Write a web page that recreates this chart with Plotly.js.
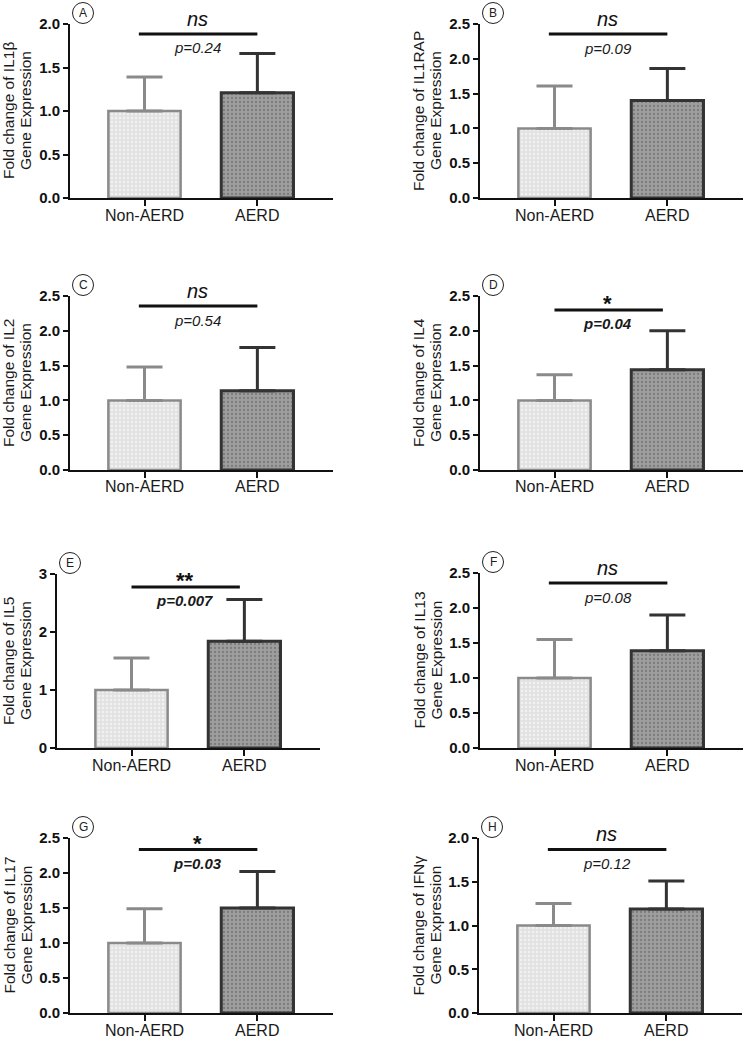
<!DOCTYPE html>
<html>
<head>
<meta charset="utf-8">
<script src="https://cdn.plot.ly/plotly-3.0.1.min.js"></script>
<style>html,body{margin:0;padding:0;background:#fff;}#chart{width:744px;height:1038px;}</style>
</head>
<body>
<div id="chart"></div>
<script>
// ---- data ----
const categories = ['Non-AERD', 'AERD'];
const panelLetters = ['A', 'B', 'C', 'D', 'E', 'F', 'G', 'H'];
const genes = ['IL1β', 'IL1RAP', 'IL2', 'IL4', 'IL5', 'IL13', 'IL17', 'IFNγ'];
const nonAerdMean = [1.0, 1.0, 1.0, 1.0, 1.0, 1.0, 1.0, 1.0];
const aerdMean = [1.21, 1.40, 1.14, 1.44, 1.84, 1.39, 1.50, 1.19];
const nonAerdErr = [0.39, 0.61, 0.48, 0.37, 0.55, 0.55, 0.49, 0.25];
const aerdErr = [0.45, 0.46, 0.62, 0.56, 0.72, 0.51, 0.52, 0.32];
const yMax = [2.0, 2.5, 2.5, 2.5, 3, 2.5, 2.5, 2.0];
const yStep = [0.5, 0.5, 0.5, 0.5, 1, 0.5, 0.5, 0.5];
const sigLabel = ['ns', 'ns', 'ns', '*', '**', 'ns', '*', 'ns'];
const pValue = ['p=0.24', 'p=0.09', 'p=0.54', 'p=0.04', 'p=0.007', 'p=0.08', 'p=0.03', 'p=0.12'];
const sigBarY = [1.885, 2.356, 2.356, 2.30, 2.776, 2.356, 2.337, 1.870];
const sigBarFrom = [-0.05, -0.05, -0.05, 0.0, 0.0, -0.05, -0.05, -0.05];
const sigBarTo = [1.0, 1.0, 1.0, 0.96, 0.96, 1.0, 1.0, 1.0];

// ---- layout geometry (pixels) ----
const W = 744, H = 1038;
const axisLeft = [70, 480, 70, 480, 57, 480, 70, 479];
const plotTop = [24, 24, 296, 296, 574, 573, 838, 838];
const plotBottom = [198, 198, 470, 470, 748, 748, 1013, 1013];
const plotWidth = 263;
const FONT = 'Arial, "Liberation Sans", Helvetica, sans-serif';

const traces = [];
const layout = {
  width: W, height: H,
  margin: {l: 0, r: 0, t: 0, b: 0},
  showlegend: false,
  paper_bgcolor: '#ffffff',
  plot_bgcolor: '#ffffff',
  font: {family: FONT, color: '#1a1a1a'},
  annotations: [],
  shapes: []
};

for (let i = 0; i < 8; i++) {
  const n = i + 1;
  const xa = n === 1 ? 'x' : 'x' + n;
  const ya = n === 1 ? 'y' : 'y' + n;
  const xKey = n === 1 ? 'xaxis' : 'xaxis' + n;
  const yKey = n === 1 ? 'yaxis' : 'yaxis' + n;
  const isE = yStep[i] === 1;

  traces.push({
    type: 'bar', x: [0], y: [nonAerdMean[i]], xaxis: xa, yaxis: ya,
    width: 0.64, cliponaxis: false, hoverinfo: 'skip',
    marker: {
      color: '#e2e2e2',
      line: {color: '#8a8a8a', width: 2.5},
      pattern: {shape: '.', bgcolor: '#e2e2e2', fgcolor: '#f3f3f3', size: 4, solidity: 0.3}
    },
    error_y: {type: 'data', symmetric: false, array: [nonAerdErr[i]], arrayminus: [0],
              color: '#8a8a8a', thickness: 3, width: 18}
  });
  traces.push({
    type: 'bar', x: [1], y: [aerdMean[i]], xaxis: xa, yaxis: ya,
    width: 0.64, cliponaxis: false, hoverinfo: 'skip',
    marker: {
      color: '#9e9e9e',
      line: {color: '#333333', width: 3},
      pattern: {shape: '.', bgcolor: '#9e9e9e', fgcolor: '#7c7c7c', size: 4, solidity: 0.25}
    },
    error_y: {type: 'data', symmetric: false, array: [aerdErr[i]], arrayminus: [0],
              color: '#333333', thickness: 3, width: 18}
  });

  const x0 = axisLeft[i] / W, x1 = (axisLeft[i] + plotWidth) / W;
  const y0 = 1 - plotBottom[i] / H, y1 = 1 - plotTop[i] / H;

  const tv = [];
  for (let v = 0; v <= yMax[i] + 1e-9; v += yStep[i]) tv.push(+v.toFixed(2));

  layout[xKey] = {
    domain: [x0, Math.min(x1, 1)], anchor: ya, range: [-0.66, 1.67],
    tickvals: [0, 1], showticklabels: false,
    showline: true, linecolor: '#111', linewidth: 2,
    ticks: 'outside', ticklen: 6, tickwidth: 2, tickcolor: '#111',
    showgrid: false, zeroline: false, fixedrange: true
  };
  layout[yKey] = {
    domain: [y0, y1], anchor: xa, range: [0, yMax[i]],
    tickvals: tv, tickformat: isE ? 'd' : '.1f',
    showline: true, linecolor: '#111', linewidth: 2,
    ticks: 'outside', ticklen: 5, tickwidth: 2, tickcolor: '#111',
    showgrid: false, zeroline: false, fixedrange: true,
    tickfont: {family: FONT, size: 15, color: '#111', weight: 'bold'}
  };

  // category labels under the x axis
  for (let c = 0; c < categories.length; c++) {
    layout.annotations.push({
      xref: xa, yref: 'paper', x: c, y: 1 - (plotBottom[i] + 17) / H,
      text: categories[c], showarrow: false, xanchor: 'center', yanchor: 'middle',
      font: {family: FONT, size: 16, color: '#1a1a1a'}
    });
  }

  // y-axis titles (two lines)
  const midY = 1 - ((plotTop[i] + plotBottom[i]) / 2) / H;
  const titleOff = isE ? 12 : 0;
  layout.annotations.push({
    xref: 'paper', yref: 'paper', x: (axisLeft[i] - 61 + titleOff) / W, y: midY,
    text: 'Fold change of ' + genes[i], textangle: -90, showarrow: false,
    xanchor: 'center', yanchor: 'middle',
    font: {family: FONT, size: 15.5, color: '#1a1a1a'}
  });
  layout.annotations.push({
    xref: 'paper', yref: 'paper', x: (axisLeft[i] - 44 + titleOff) / W, y: midY,
    text: 'Gene Expression', textangle: -90, showarrow: false,
    xanchor: 'center', yanchor: 'middle',
    font: {family: FONT, size: 15.5, color: '#1a1a1a'}
  });

  // panel letter in circle
  const cx = (axisLeft[i] + 13) / W, cy = 1 - (plotTop[i] - 11) / H;
  layout.shapes.push({
    type: 'circle', xref: 'paper', yref: 'paper', xsizemode: 'pixel', ysizemode: 'pixel',
    xanchor: cx, yanchor: cy, x0: -10.5, x1: 10.5, y0: -10.5, y1: 10.5,
    line: {color: '#222', width: 1}, fillcolor: 'rgba(0,0,0,0)'
  });
  layout.annotations.push({
    xref: 'paper', yref: 'paper', x: cx, y: cy, text: panelLetters[i], showarrow: false,
    xanchor: 'center', yanchor: 'middle', font: {family: FONT, size: 12, color: '#222'}
  });

  // significance bar + labels
  layout.shapes.push({
    type: 'line', xref: xa, yref: ya, x0: sigBarFrom[i], x1: sigBarTo[i],
    y0: sigBarY[i], y1: sigBarY[i], line: {color: '#111', width: 3}
  });
  const sig = sigLabel[i] !== 'ns';
  layout.annotations.push({
    xref: xa, yref: ya, x: 0.47, y: sigBarY[i], yshift: sig ? 6 : 15,
    text: sig ? '<b>' + sigLabel[i] + '</b>' : '<i>' + sigLabel[i] + '</i>',
    showarrow: false, xanchor: 'center', yanchor: 'middle',
    font: {family: FONT, size: sig ? 22 : 20, color: '#111'}
  });
  layout.annotations.push({
    xref: xa, yref: ya, x: 0.47, y: sigBarY[i], yshift: -14,
    text: sig ? '<b><i>' + pValue[i] + '</i></b>' : '<i>' + pValue[i] + '</i>',
    showarrow: false, xanchor: 'center', yanchor: 'middle',
    font: {family: FONT, size: 15, color: '#1a1a1a'}
  });
}

Plotly.newPlot('chart', traces, layout, {staticPlot: true, displayModeBar: false});
</script>
</body>
</html>
